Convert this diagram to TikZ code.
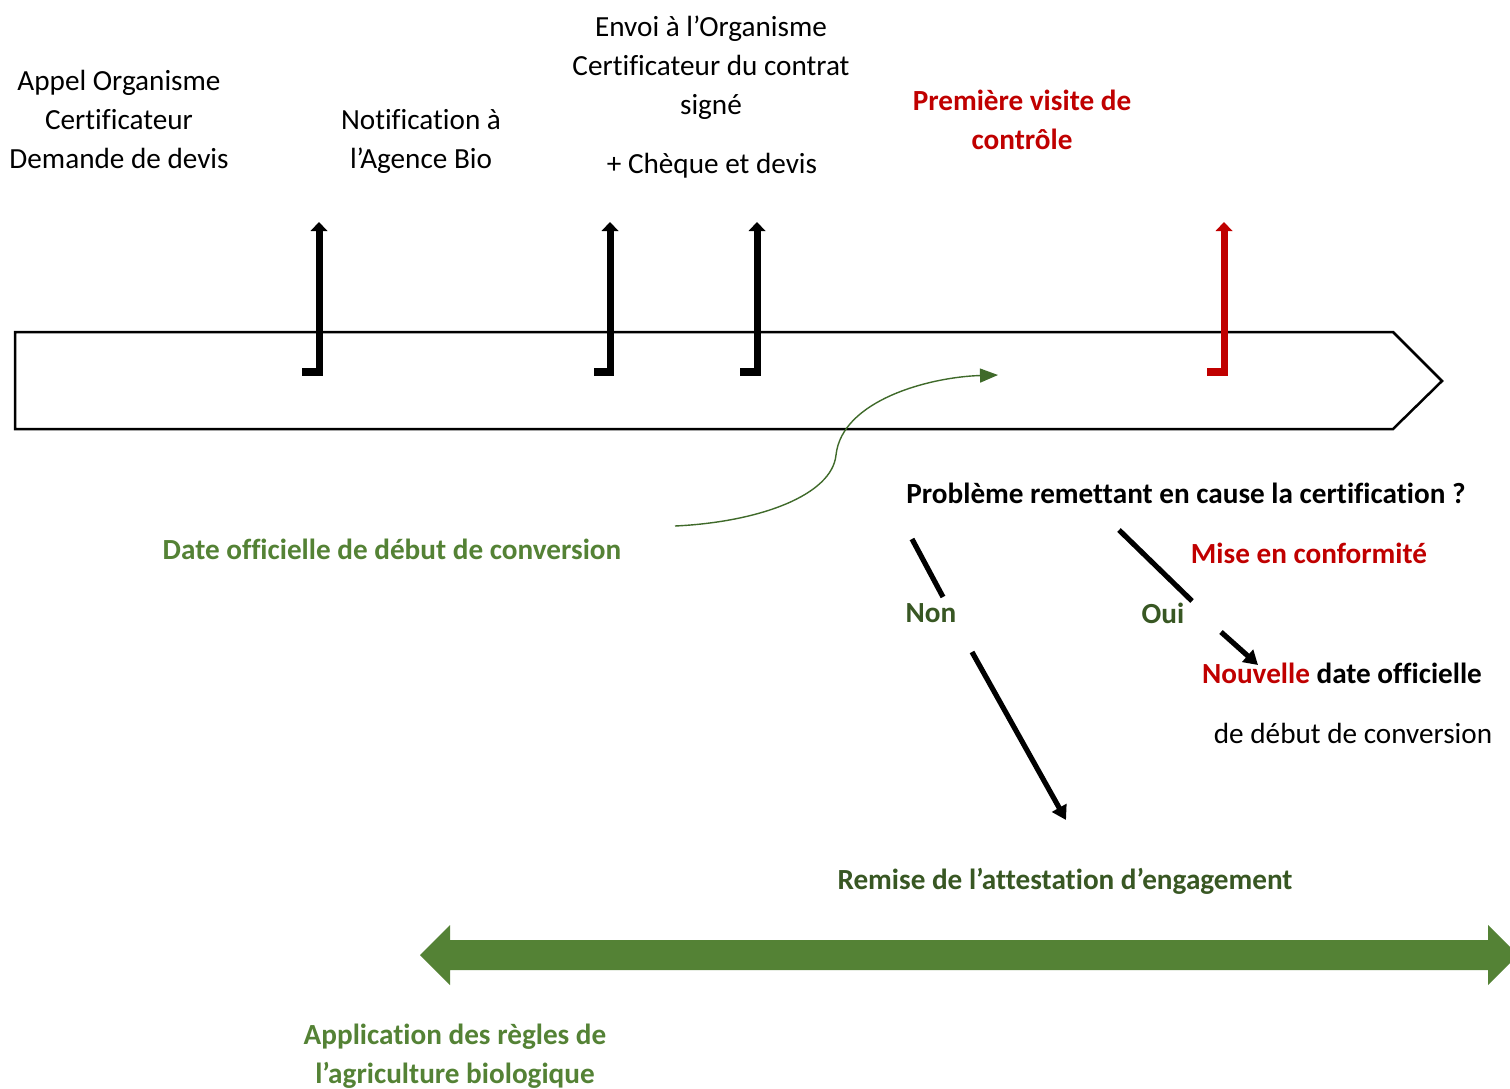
\documentclass[tikz,border=0pt]{standalone}
\usepackage{fontspec}
\setmainfont{Carlito}[Ligatures=NoCommon]
\usetikzlibrary{arrows.meta}
\definecolor{cred}{HTML}{C00000}
\definecolor{cgreen}{HTML}{548235}
\definecolor{cdark}{HTML}{385723}
\definecolor{ccurve}{HTML}{3F6A2A}
\begin{document}
\begin{tikzpicture}[x=0.5pt,y=-0.5pt,
  every node/.style={font=\fontsize{14.6pt}{19.5pt}\selectfont, align=center, inner sep=0pt},
  bolder/.style={font=\fontsize{14.6pt}{19.5pt}\selectfont\bfseries},
  blackline/.style={line width=2.6pt, line cap=butt},
  blackarrow/.style={line width=2.6pt, -{Triangle[width=8pt,length=7pt]}}]
\useasboundingbox (0,0) rectangle (1510,1088);
\clip (0,0) rectangle (1510,1088);
\fill[white] (0,0) rectangle (1510,1088);

% timeline arrow
\draw[line width=1.25pt, line join=miter] (15,332) -- (1393,332) -- (1442,381) -- (1393,429) -- (15,429) -- cycle;

% tick arrows
\foreach \x/\f/\c in {319/302/black,610/594/black,757/740/black,1224/1207/cred} {
  \fill[\c] (\f,368) rectangle (\x+3.5,376);
  \fill[\c] (\x-3.5,376) rectangle (\x+3.5,230);
  \fill[\c] (\x-8.5,231) -- (\x+8.5,231) -- (\x,222) -- cycle;
}

% top texts
\node (appel) at (119,119) {Appel Organisme\\Certificateur\\Demande de devis};
\node (notif) at (421,141) {Notification à\\l’Agence Bio};
\node (envoi) at (711,68) {Envoi à l’Organisme\\Certificateur du contrat\\signé};
\node (cheque) at (712,166) {+ Chèque et devis};
\node[bolder, text=cred, align=center] (visite) at (1022,120) {Première visite de\\contrôle};

% curve
\node[bolder, text=cgreen] (date) at (392,549) {Date officielle de début de conversion};
\coordinate (cstart) at (675,526);
\coordinate (cend) at (998,375);
\draw[ccurve, line width=0.7pt, -{Triangle[width=7pt,length=9pt]}]
  (cstart) .. controls (760,522) and (832,495) .. (836,455)
  .. controls (842,400) and (930,377) .. (cend);

% question
\node[bolder] (prob) at (1186,493) {Problème remettant en cause la certification ?};
\node[bolder, text=cred] (mise) at (1309,553) {Mise en conformité};
\node[bolder, text=cdark] (non) at (931,613) {Non};
\node[bolder, text=cdark] (oui) at (1163,613) {Oui};
\node[bolder] (nouv) at (1342,673) {\textcolor{cred}{Nouvelle} date officielle};
\node (debut) at (1353,733) {de début de conversion};
\node[bolder, text=cdark] (remise) at (1065,881) {Remise de l’attestation d’engagement};

\coordinate (n1) at (912,539); \coordinate (n2) at (943,597);
\coordinate (o1) at (1119,530); \coordinate (o2) at (1192,601);
\coordinate (a1) at (1221,632); \coordinate (a2) at (1258,665);
\coordinate (b1) at (972,652); \coordinate (b2) at (1066,820);
\draw[blackline] (n1) -- (n2);
\draw[blackline] (o1) -- (o2);
\draw[blackarrow] (a1) -- (a2);
\draw[blackarrow] (b1) -- (b2);

% green double arrow
\fill[cgreen] (420,955) -- (450,925) -- (450,940) -- (1488,940) -- (1488,925) -- (1518,955)
  -- (1488,985) -- (1488,970) -- (450,970) -- (450,985) -- cycle;
\node[bolder, text=cgreen, align=center] (appli) at (455,1056) {Application des règles de\\l’agriculture biologique};
\end{tikzpicture}
\end{document}
